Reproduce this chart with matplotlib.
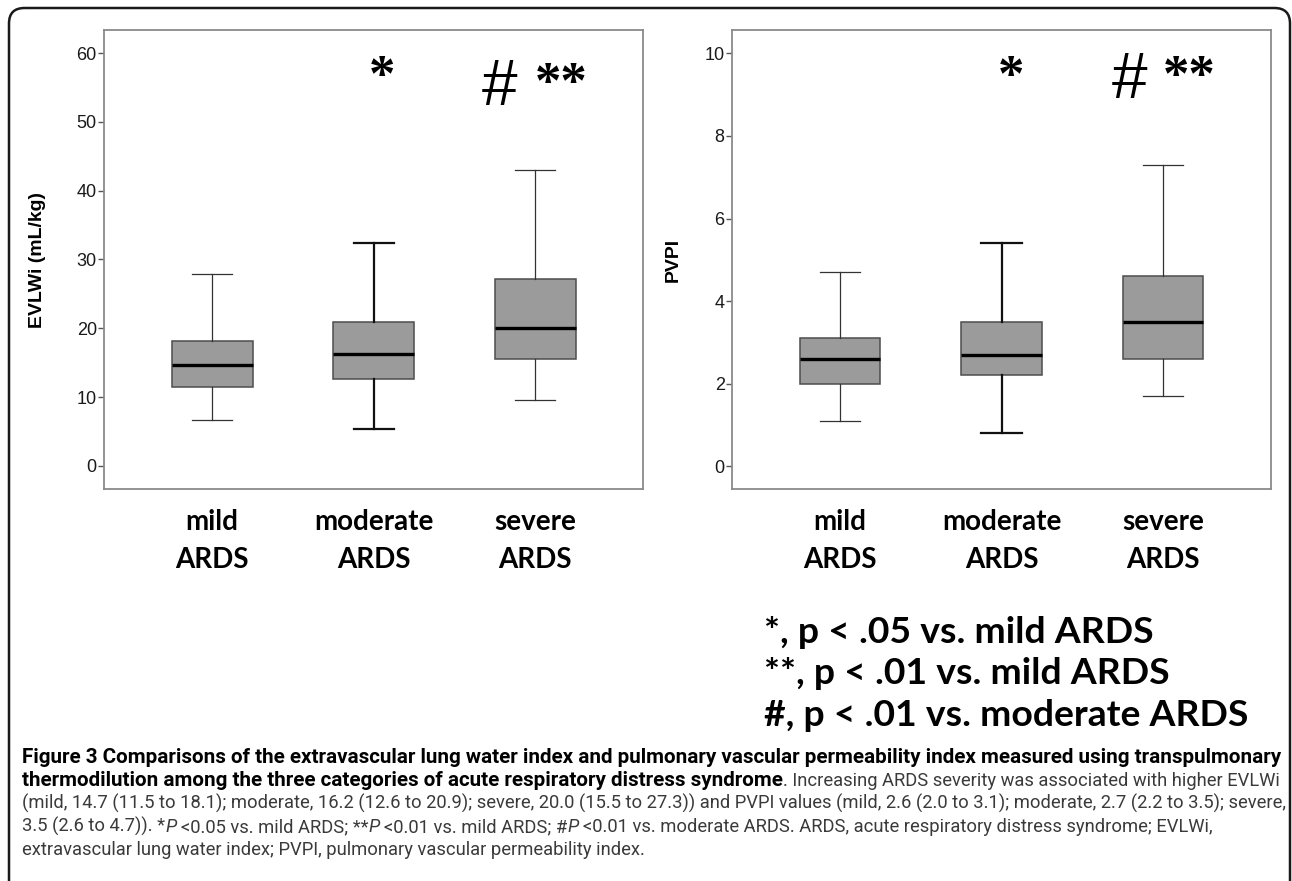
import matplotlib
matplotlib.use("Agg")
import matplotlib.pyplot as plt
from matplotlib.patches import FancyBboxPatch

# box summaries
categories = ["mild\nARDS", "moderate\nARDS", "severe\nARDS"]
evlwi_low = [6.6, 5.3, 9.6]
evlwi_q1 = [11.5, 12.6, 15.5]
evlwi_med = [14.7, 16.2, 20.0]
evlwi_q3 = [18.1, 20.9, 27.2]
evlwi_high = [27.9, 32.4, 43.0]

pvpi_low = [1.1, 0.8, 1.7]
pvpi_q1 = [2.0, 2.2, 2.6]
pvpi_med = [2.6, 2.7, 3.5]
pvpi_q3 = [3.1, 3.5, 4.6]
pvpi_high = [4.7, 5.4, 7.3]

legend_lines = ["*, p < .05 vs. mild ARDS",
                "**, p < .01 vs. mild ARDS",
                "#, p < .01 vs. moderate ARDS"]

caption_lines = [
    [("Figure 3 Comparisons of the extravascular lung water index and pulmonary vascular permeability index measured using transpulmonary", "b")],
    [("thermodilution among the three categories of acute respiratory distress syndrome", "b"),
     (". Increasing ARDS severity was associated with higher EVLWi", "r")],
    [("(mild, 14.7 (11.5 to 18.1); moderate, 16.2 (12.6 to 20.9); severe, 20.0 (15.5 to 27.3)) and PVPI values (mild, 2.6 (2.0 to 3.1); moderate, 2.7 (2.2 to 3.5); severe,", "r")],
    [("3.5 (2.6 to 4.7)). *", "r"), ("P", "i"), (" <0.05 vs. mild ARDS; **", "r"), ("P", "i"),
     (" <0.01 vs. mild ARDS; #", "r"), ("P", "i"),
     (" <0.01 vs. moderate ARDS. ARDS, acute respiratory distress syndrome; EVLWi,", "r")],
    [("extravascular lung water index; PVPI, pulmonary vascular permeability index.", "r")],
]

W, H = 1292, 881
fig = plt.figure(figsize=(W / 100, H / 100), dpi=100)
fig.patch.set_facecolor("white")
renderer = fig.canvas.get_renderer()


def fx(x):
    return x / W


def fy(y):
    return 1 - y / H


# outer rounded frame
frame = FancyBboxPatch((fx(9), fy(905)), fx(1290) - fx(9), fy(8) - fy(905),
                       boxstyle="round,pad=0,rounding_size=0.012",
                       transform=fig.transFigure, facecolor="none",
                       edgecolor="#1a1a1a", linewidth=1.8, mutation_aspect=W / H)
fig.patches.append(frame)

positions = [1, 2, 3]
whisker_lw = [0.9, 1.6, 0.9]
whisker_col = ["#333333", "#111111", "#333333"]


def draw_panel(ax, low, q1, med, q3, high, ylim, yticks, ylabel, label_x, marks):
    stats = []
    for i in range(len(categories)):
        stats.append(dict(whislo=low[i], q1=q1[i], med=med[i], q3=q3[i],
                          whishi=high[i], fliers=[]))
    art = ax.bxp(stats, positions=positions, widths=0.5, patch_artist=True,
                 showfliers=False, capwidths=0.25,
                 boxprops=dict(facecolor="#9b9b9b", edgecolor="#4d4d4d", linewidth=1.1),
                 medianprops=dict(color="black", linewidth=2.4))
    for i in range(len(categories)):
        for ln in art["whiskers"][2 * i:2 * i + 2] + art["caps"][2 * i:2 * i + 2]:
            ln.set_linewidth(whisker_lw[i])
            ln.set_color(whisker_col[i])
    ax.set_xlim(1 / 3, 11 / 3)
    ax.set_ylim(*ylim)
    ax.set_yticks(yticks)
    ax.set_yticklabels([str(t) for t in yticks], family="Liberation Sans",
                       fontsize=13, color="#1a1a1a")
    ax.tick_params(axis="y", length=4.5, width=1, color="#555555", pad=1)
    ax.set_xticks(positions)
    ax.set_xticklabels(categories, family="Lato", fontweight="bold",
                       fontsize=20, linespacing=1.6)
    ax.tick_params(axis="x", length=0, pad=14)
    for sp in ax.spines.values():
        sp.set_color("#8a8a8a")
        sp.set_linewidth(1.3)
    ax.set_ylabel(ylabel, family="Liberation Sans", fontweight="bold", fontsize=14)
    ax.yaxis.set_label_coords(label_x, 0.5)
    for x, yf, s, fam, size, wt in marks:
        ax.text(x, yf, s, transform=ax.get_xaxis_transform(), ha="center",
                va="center", family=fam, fontsize=size, fontweight=wt)


ax1 = fig.add_axes([fx(104.4), fy(489.3), 538.6 / W, 459 / H])
draw_panel(ax1, evlwi_low, evlwi_q1, evlwi_med, evlwi_q3, evlwi_high,
           (-3.4, 63.3), [0, 10, 20, 30, 40, 50, 60], "EVLWi (mL/kg)", -0.108,
           [(2.05, 0.895, "*", "Liberation Serif", 38, "bold"),
            (2.78, 0.875, "#", "Liberation Sans", 46, "normal"),
            (3.16, 0.88, "**", "Liberation Serif", 38, "bold")])

ax2 = fig.add_axes([fx(732.3), fy(489.3), 538.5 / W, 459 / H])
draw_panel(ax2, pvpi_low, pvpi_q1, pvpi_med, pvpi_q3, pvpi_high,
           (-0.56, 10.56), [0, 2, 4, 6, 8, 10], "PVPI", -0.093,
           [(2.06, 0.895, "*", "Liberation Serif", 38, "bold"),
            (2.79, 0.89, "#", "Liberation Sans", 46, "normal"),
            (3.16, 0.895, "**", "Liberation Serif", 38, "bold")])


def fit(t, width_px):
    bb = t.get_window_extent(renderer)
    t.set_fontsize(t.get_fontsize() * width_px / bb.width)
    return t.get_fontsize()


# significance legend
leg_base = [643, 684, 726]
leg_texts = []
for s, yb in zip(legend_lines, leg_base):
    leg_texts.append(fig.text(fx(764), fy(yb), s, family="Lato", fontweight="bold",
                              fontsize=20, va="baseline", ha="left"))
leg_size = fit(leg_texts[2], 1250 - 764)
for t in leg_texts:
    t.set_fontsize(leg_size)

# caption
cap_font = "Roboto"
probe_b = fig.text(0, 0, caption_lines[0][0][0], family=cap_font, fontweight="bold",
                   fontsize=12, va="baseline")
bold_size = fit(probe_b, 1281 - 22)
probe_b.remove()
probe_r = fig.text(0, 0, caption_lines[2][0][0], family=cap_font, fontsize=12, va="baseline")
reg_size = fit(probe_r, 1281 - 22)
probe_r.remove()

styles = {"b": dict(fontweight="bold", color="black", size=bold_size),
          "r": dict(fontweight="normal", color="#3a3a3a", size=reg_size),
          "i": dict(fontweight="normal", fontstyle="italic", color="#3a3a3a", size=reg_size)}


def width_of(s, st):
    t = fig.text(0, 0, s, family=cap_font, fontsize=st["size"],
                 fontweight=st["fontweight"], fontstyle=st.get("fontstyle", "normal"))
    w = t.get_window_extent(renderer).width
    t.remove()
    return w


cap_base = [763, 786, 809, 832, 855]
for segs, yb in zip(caption_lines, cap_base):
    x = 22
    for s, key in segs:
        st = styles[key]
        space = width_of("x x", st) - width_of("xx", st)
        if s.startswith(" "):
            x += space
        core = s.strip(" ")
        t = fig.text(fx(x), fy(yb), core, family=cap_font, fontsize=st["size"],
                     fontweight=st["fontweight"], fontstyle=st.get("fontstyle", "normal"),
                     color=st["color"], va="baseline", ha="left")
        x += t.get_window_extent(renderer).width
        if s.endswith(" "):
            x += space

fig.savefig("out.png", dpi=100, facecolor="white")
